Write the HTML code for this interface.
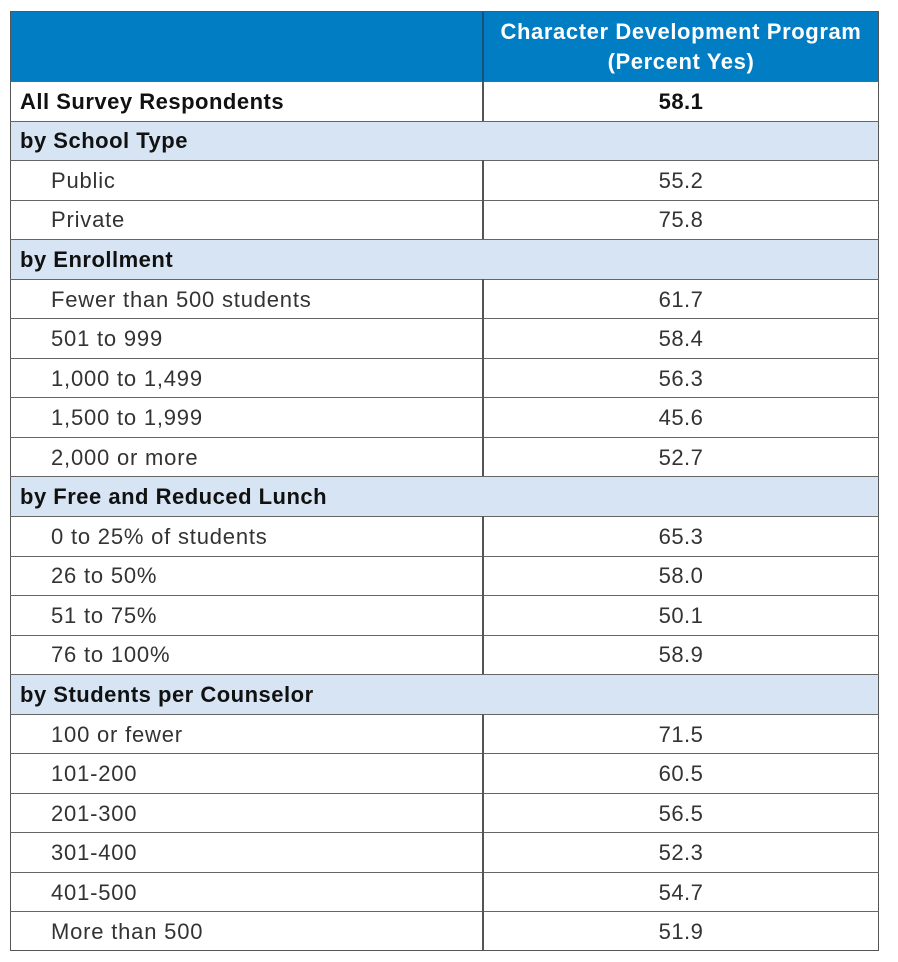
<!DOCTYPE html>
<html><head><meta charset="utf-8"><style>
body{margin:0;width:898px;height:962px;background:#fff;font-family:"Liberation Sans",Arial,sans-serif;}
.t{position:absolute;left:10px;top:11px;width:869px;height:940px;border:1.5px solid #555;box-sizing:border-box;}
.r{position:absolute;left:10px;width:869px;border-top:1.5px solid #666;box-sizing:border-box;}
.l{position:absolute;left:10px;font-size:22px;letter-spacing:0.8px;color:#333;white-space:nowrap}
.v{position:absolute;left:483px;width:396px;text-align:center;font-size:22px;letter-spacing:0.5px;color:#333}
.b{font-weight:bold;color:#111;letter-spacing:0.5px}
</style></head><body>
<div class="t"></div>
<div style="position:absolute;left:11px;top:12px;width:867px;height:69px;background:#007dc3"></div>
<div style="position:absolute;left:483px;width:396px;text-align:center;color:#fff;font-weight:bold;font-size:22px;letter-spacing:0.6px;line-height:30px;top:17px">Character Development Program<br>(Percent Yes)</div>
<div id="rows"></div>
<script>
var rows=[["All Survey Respondents","58.1",2],["by School Type","",1],["Public","55.2"],["Private","75.8"],["by Enrollment","",1],["Fewer than 500 students","61.7"],["501 to 999","58.4"],["1,000 to 1,499","56.3"],["1,500 to 1,999","45.6"],["2,000 or more","52.7"],["by Free and Reduced Lunch","",1],["0 to 25% of students","65.3"],["26 to 50%","58.0"],["51 to 75%","50.1"],["76 to 100%","58.9"],["by Students per Counselor","",1],["100 or fewer","71.5"],["101-200","60.5"],["201-300","56.5"],["301-400","52.3"],["401-500","54.7"],["More than 500","51.9"]];
var h="",y0=81,rh=(951-81)/22;
rows.forEach(function(r,i){var y=y0+i*rh;
 if(r[2]==1)h+='<div style="position:absolute;left:11px;top:'+y+'px;width:867px;height:'+rh+'px;background:#d6e4f3"></div>';
 h+='<div class="r" style="top:'+y+'px"></div>';
 if(r[2]!=1)h+='<div style="position:absolute;left:482px;top:'+y+'px;width:1.5px;height:'+rh+'px;background:#555"></div>';
 var ty=y+rh/2-12;
 if(r[2]==1)h+='<div class="l b" style="left:20px;top:'+ty+'px;font-size:22px">'+r[0]+'</div>';
 else if(r[2]==2)h+='<div class="l b" style="left:20px;top:'+ty+'px;font-size:22px">'+r[0]+'</div><div class="v b" style="top:'+ty+'px">'+r[1]+'</div>';
 else h+='<div class="l" style="left:51px;top:'+ty+'px">'+r[0]+'</div><div class="v" style="top:'+ty+'px">'+r[1]+'</div>';
});
h+='<div style="position:absolute;left:482px;top:12px;width:1.5px;height:69px;background:#1a4f7a"></div>';
document.getElementById("rows").innerHTML=h;
</script>
</body></html>
